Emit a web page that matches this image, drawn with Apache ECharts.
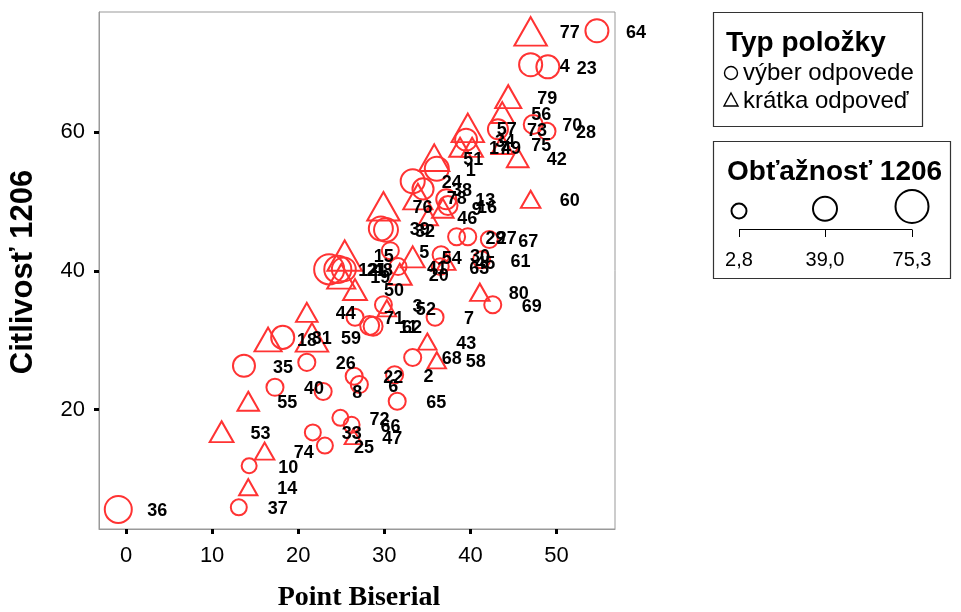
<!DOCTYPE html>
<html><head><meta charset="utf-8">
<script src="https://cdn.jsdelivr.net/npm/echarts@6/dist/echarts.min.js"></script>
<style>html,body{margin:0;padding:0;background:#fff}#c{width:961px;height:612px}</style>
</head><body><div id="c"></div>
<script>
// ---- data ----
const itemIds = [1,2,3,4,5,6,7,8,9,10,11,12,13,14,15,16,17,18,19,20,21,22,23,24,25,26,27,28,29,30,31,32,33,34,35,36,37,38,39,40,41,42,43,44,45,46,47,48,49,50,51,52,53,54,55,56,57,58,59,60,61,62,63,64,65,66,67,68,69,70,71,72,73,74,75,76,77,78,79,80];
const pointBiserial = [36.1,31.2,29.9,47.0,30.7,27.1,35.9,22.9,36.8,14.3,28.3,23.6,37.2,14.2,25.4,37.4,38.8,16.5,25.0,31.8,24.6,26.5,49.0,33.3,23.1,21.0,39.7,48.9,38.4,36.6,18.2,30.2,21.7,39.5,13.7,-0.9,13.1,34.5,29.6,17.3,31.6,45.5,35.0,21.0,37.2,35.1,26.4,25.3,40.2,26.6,35.8,30.3,11.1,33.3,14.2,43.7,39.7,36.1,21.6,47.0,41.3,28.7,36.5,54.7,31.5,26.2,42.2,33.3,42.6,47.3,26.6,24.9,43.2,16.1,43.7,29.9,47.0,33.9,44.4,41.1];
const citlivost = [54.7,25.0,35.1,69.7,42.9,23.6,33.3,22.6,49.0,11.9,32.1,40.2,50.3,8.8,42.2,49.4,57.8,30.1,39.2,39.5,40.2,24.8,69.4,52.9,14.8,26.8,44.9,60.1,44.9,42.3,30.4,45.9,16.7,58.9,26.3,5.6,5.9,51.8,46.1,23.2,40.6,56.3,29.8,34.0,41.3,47.8,16.1,40.2,57.8,37.3,56.3,34.6,16.8,42.0,21.2,62.8,60.6,27.1,30.4,50.3,41.6,32.0,40.6,74.6,21.2,17.8,44.5,27.5,35.1,61.1,33.3,18.8,60.4,14.0,58.2,49.3,74.5,50.7,65.1,36.9];
const obtaznost = [39.0,11.2,10.5,35.3,10.9,11.4,10.8,11.0,22.6,2.8,18.7,63.5,23.1,10.6,71.3,19.2,22.9,43.4,47.0,31.2,51.4,10.9,35.0,39.2,6.9,11.3,10.7,11.1,10.9,11.0,35.2,38.8,6.6,30.8,31.1,51.2,6.8,27.3,39.1,11.2,10.8,23.0,10.6,22.7,11.0,14.8,6.7,38.9,23.2,31.0,55.0,10.9,30.9,31.3,22.8,30.7,63.0,10.8,63.4,15.1,11.1,19.0,10.7,35.1,11.0,6.9,10.8,11.2,10.9,18.8,11.0,6.8,23.1,14.7,22.9,63.1,63.3,51.0,39.3,15.0];
const typPolozky = ['v','v','v','v','v','v','v','v','k','v','v','v','v','k','k','v','k','k','k','k','v','v','v','v','v','v','v','v','v','v','v','v','v','v','v','v','v','v','v','v','v','k','k','k','k','k','k','v','k','k','k','k','k','k','k','k','k','k','k','k','v','v','v','v','v','v','v','v','v','v','v','v','v','k','k','k','k','k','k','k'];
const typNames = { v: 'výber odpovede', k: 'krátka odpoveď' };
const xTicks = [0, 10, 20, 30, 40, 50];
const yTicks = [20, 40, 60];
const sizeLegendValues = [2.8, 39.0, 75.3];
const sizeLegendLabels = ['2,8', '39,0', '75,3'];

// ---- chart ----
const RED = '#ff3333';
const FONT = "'Liberation Sans', Arial, sans-serif";
const dMin = 2.8, dMax = 75.3;
function sz(d) { return 15 + (d - dMin) / (dMax - dMin) * 18; }

function rows(type) {
  const out = [];
  for (let i = 0; i < itemIds.length; i++) {
    if (typPolozky[i] === type) out.push([pointBiserial[i], citlivost[i], obtaznost[i], itemIds[i]]);
  }
  return out;
}

const labelCfg = {
  show: true, position: 'inside', align: 'left', verticalAlign: 'middle',
  offset: [29, 2], formatter: p => String(p.value[3]),
  color: '#000', opacity: 1, fontFamily: FONT, fontWeight: 'bold', fontSize: 18,
  textBorderWidth: 0, textShadowBlur: 0
};

const chart = echarts.init(document.getElementById('c'), null, { renderer: 'canvas' });

const legendGraphics = [
  { type: 'rect', shape: { x: 713.5, y: 12.5, width: 209, height: 114 }, style: { fill: '#fff', stroke: '#333', lineWidth: 1.2 } },
  { type: 'text', x: 726, y: 43, style: { text: 'Typ položky', font: "bold 28px " + FONT, fill: '#000', textVerticalAlign: 'middle' } },
  { type: 'circle', shape: { cx: 731, cy: 73, r: 6.5 }, style: { fill: 'none', stroke: '#000', lineWidth: 1.4 } },
  { type: 'text', x: 743, y: 73, style: { text: typNames.v, font: "24px " + FONT, fill: '#000', textVerticalAlign: 'middle' } },
  { type: 'polygon', shape: { points: [[731, 93], [738, 106], [724, 106]] }, style: { fill: 'none', stroke: '#000', lineWidth: 1.4 } },
  { type: 'text', x: 743, y: 101, style: { text: typNames.k, font: "24px " + FONT, fill: '#000', textVerticalAlign: 'middle' } },

  { type: 'rect', shape: { x: 713.5, y: 141.5, width: 237, height: 137 }, style: { fill: '#fff', stroke: '#333', lineWidth: 1.2 } },
  { type: 'text', x: 727, y: 172, style: { text: 'Obťažnosť 1206', font: "bold 28px " + FONT, fill: '#000', textVerticalAlign: 'middle' } },
  { type: 'line', shape: { x1: 739, y1: 229.5, x2: 912, y2: 229.5 }, style: { stroke: '#000', lineWidth: 1 } }
];
const sizeXs = [739, 825, 912];
sizeLegendValues.forEach((v, i) => {
  const r = sz(v) / 2;
  legendGraphics.push({ type: 'circle', shape: { cx: sizeXs[i], cy: 211 - (r - 7.5) * 0.5, r: r }, style: { fill: 'none', stroke: '#000', lineWidth: 2 } });
  legendGraphics.push({ type: 'line', shape: { x1: sizeXs[i] + 0.5, y1: 229.5, x2: sizeXs[i] + 0.5, y2: 237 }, style: { stroke: '#000', lineWidth: 1 } });
  legendGraphics.push({ type: 'text', x: sizeXs[i], y: 260, style: { text: sizeLegendLabels[i], font: "20px " + FONT, fill: '#000', textAlign: 'center', textVerticalAlign: 'middle' } });
});
legendGraphics.push({ type: 'text', x: 359, y: 598, style: { text: 'Point Biserial', font: "bold 28px 'Liberation Serif', 'Times New Roman', serif", fill: '#000', textAlign: 'center', textVerticalAlign: 'middle' } });
legendGraphics.push({ type: 'text', x: 23, y: 272, rotation: Math.PI / 2, style: { text: 'Citlivosť 1206', font: "bold 31px " + FONT, fill: '#000', textAlign: 'center', textVerticalAlign: 'middle' } });

chart.setOption({
  animation: false,
  backgroundColor: '#fff',
  grid: { left: 99, top: 12, width: 516, height: 517, show: true, borderColor: '#999', borderWidth: 1, backgroundColor: 'transparent' },
  xAxis: {
    type: 'value', min: -3.14, max: 56.8,
    axisLine: { show: true, onZero: false, lineStyle: { color: '#999', width: 1 } },
    axisTick: { show: true, customValues: xTicks, length: 5, lineStyle: { color: '#000', width: 3 } },
    axisLabel: { customValues: xTicks, margin: 16, color: '#000', fontSize: 22, fontFamily: FONT },
    splitLine: { show: false }
  },
  yAxis: {
    type: 'value', min: 2.78, max: 77.3,
    axisLine: { show: true, onZero: false, lineStyle: { color: '#999', width: 1 } },
    axisTick: { show: true, customValues: yTicks, length: 5, lineStyle: { color: '#000', width: 3 } },
    axisLabel: { customValues: yTicks, margin: 14, color: '#000', fontSize: 22, fontFamily: FONT },
    splitLine: { show: false }
  },
  graphic: legendGraphics,
  series: [
    {
      name: typNames.v, type: 'scatter', symbol: 'circle',
      symbolSize: v => sz(v[2]),
      itemStyle: { color: 'rgba(0,0,0,0)', borderColor: RED, borderWidth: 2, opacity: 1 },
      label: labelCfg,
      data: rows('v')
    },
    {
      name: typNames.k, type: 'scatter', symbol: 'triangle',
      symbolSize: v => { const s = sz(v[2]); return [s * 1.08, s * 0.95]; },
      itemStyle: { color: 'rgba(0,0,0,0)', borderColor: RED, borderWidth: 2, opacity: 1 },
      label: labelCfg,
      data: rows('k')
    }
  ]
});
</script>
</body></html>
